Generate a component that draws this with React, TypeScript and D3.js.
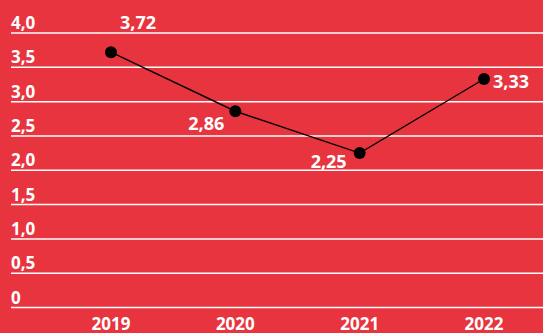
import React from "react";
import * as d3 from "d3";

const years = ["2019", "2020", "2021", "2022"];
const values = [3.72, 2.86, 2.25, 3.33];
const valueLabels = ["3,72", "2,86", "2,25", "3,33"];
const yTicks = [0, 0.5, 1, 1.5, 2, 2.5, 3, 3.5, 4];
const yTickLabels = ["0", "0,5", "1,0", "1,5", "2,0", "2,5", "3,0", "3,5", "4,0"];

const W = 543;
const H = 333;
const BG = "#E8343E";
const FONT = "'Open Sans', Roboto, sans-serif";

// label placement per point: anchor, dx, dy (relative to point)
const labelPlacement = [
  { anchor: "start", dx: 9, dy: -23 },
  { anchor: "end", dx: -11, dy: 19 },
  { anchor: "end", dx: -13, dy: 15 },
  { anchor: "start", dx: 9, dy: 9 },
];

export default function App() {
  const x = d3.scalePoint<string>().domain(years).range([111, 484]);
  const y = d3.scaleLinear().domain([0, 4]).range([307.5, 33]);
  const line = d3
    .line<number>()
    .x((_, i) => x(years[i]) as number)
    .y((d) => y(d));

  return (
    <svg
      width={W}
      height={H}
      style={{ position: "absolute", left: 0, top: 0, display: "block" }}
    >
      <rect x={0} y={0} width={W} height={H} fill={BG} />
      {yTicks.map((t, i) => (
        <g key={t}>
          <line x1={11} x2={W} y1={y(t)} y2={y(t)} stroke="#fff" strokeWidth={1.5} />
          <text
            x={11}
            y={y(t) - 4}
            fill="#fff"
            fontFamily={FONT}
            fontWeight={700}
            fontSize={17}
          >
            {yTickLabels[i]}
          </text>
        </g>
      ))}
      <path d={line(values) || ""} fill="none" stroke="#000" strokeWidth={1.4} />
      {values.map((v, i) => (
        <circle key={i} cx={x(years[i])} cy={y(v)} r={6} fill="#000" />
      ))}
      {values.map((v, i) => {
        const p = labelPlacement[i];
        return (
          <text
            key={"l" + i}
            x={(x(years[i]) as number) + p.dx}
            y={y(v) + p.dy}
            textAnchor={p.anchor as any}
            fill="#fff"
            fontFamily={FONT}
            fontWeight={700}
            fontSize={18}
          >
            {valueLabels[i]}
          </text>
        );
      })}
      {years.map((yr) => (
        <text
          key={yr}
          x={x(yr)}
          y={330}
          textAnchor="middle"
          fill="#fff"
          fontFamily={FONT}
          fontWeight={700}
          fontSize={17}
        >
          {yr}
        </text>
      ))}
    </svg>
  );
}
